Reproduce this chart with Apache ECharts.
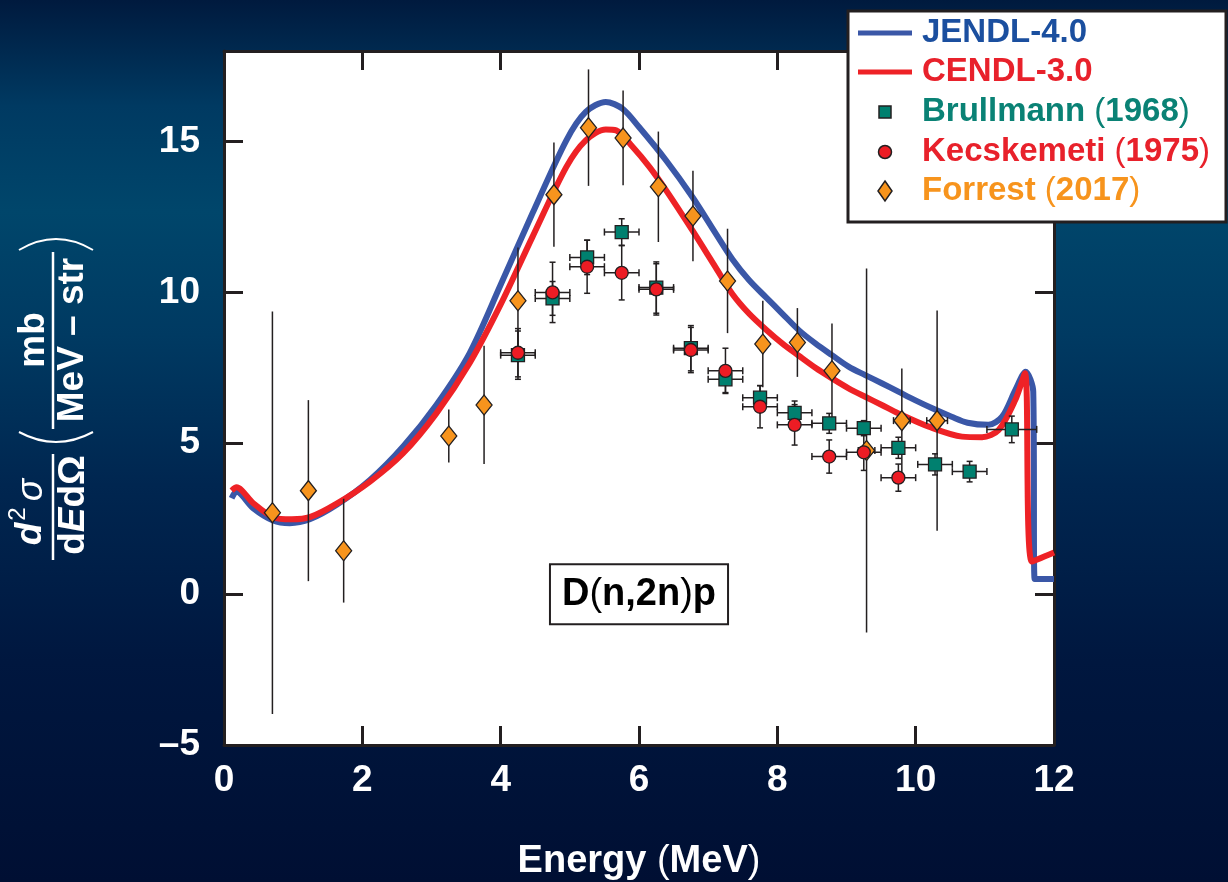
<!DOCTYPE html>
<html>
<head>
<meta charset="utf-8">
<script src="https://cdn.jsdelivr.net/npm/echarts@6/dist/echarts.min.js"></script>
<style>
  html, body { margin: 0; padding: 0; }
  #chart {
    width: 1228px; height: 882px;
    background: linear-gradient(180deg, #001a3e 0%, #003a62 12%, #00466b 24%, #003a62 38%, #002650 55%, #00173f 75%, #000f33 100%);
  }
</style>
</head>
<body>
<div id="chart"></div>
<script>
const FONT = '"Liberation Sans", Arial, Helvetica, sans-serif';

// Axis ticks
const xTickValues = [0, 2, 4, 6, 8, 10, 12];
const xTickLabels = ['0', '2', '4', '6', '8', '10', '12'];
const yTickValues = [-5, 0, 5, 10, 15];
const yTickLabels = ['\u20135', '0', '5', '10', '15'];

// Series names
const seriesNames = ['JENDL-4.0', 'CENDL-3.0', 'Brullmann (1968)', 'Kecskemeti (1975)', 'Forrest (2017)'];

// JENDL-4.0 evaluation: neutron energy (MeV) and d2σ/dEdΩ (mb/MeV-str)
const jendlE  = [0.11, 0.18, 0.42, 0.71, 0.95, 1.24, 1.63, 2.11, 2.59, 3.07, 3.55, 4.00, 4.46, 4.95, 5.23, 5.52, 5.76, 6.00, 6.39, 6.77, 7.11, 7.35, 7.59, 7.83, 8.07, 8.31, 8.55, 8.79, 9.03, 9.27, 9.51, 9.75, 9.99, 10.24, 10.52, 10.75, 11.05, 11.25, 11.44, 11.59, 11.70, 11.72, 12.00];
const jendlXS = [3.18, 3.40, 2.85, 2.44, 2.35, 2.48, 2.96, 3.78, 4.89, 6.27, 7.98, 10.25, 12.62, 15.04, 15.98, 16.31, 16.09, 15.48, 14.38, 13.17, 11.95, 11.10, 10.41, 9.85, 9.30, 8.75, 8.31, 7.92, 7.54, 7.26, 6.99, 6.71, 6.43, 6.16, 5.88, 5.68, 5.61, 5.88, 6.76, 7.37, 6.71, 0.50, 0.50];

// CENDL-3.0 evaluation
const cendlE  = [0.11, 0.18, 0.42, 0.71, 0.98, 1.24, 1.63, 2.11, 2.59, 3.07, 3.55, 4.00, 4.46, 4.95, 5.23, 5.52, 5.67, 5.91, 6.15, 6.39, 6.77, 7.11, 7.35, 7.59, 7.83, 8.07, 8.31, 8.55, 8.79, 9.03, 9.27, 9.51, 9.75, 10.19, 10.67, 10.96, 11.20, 11.44, 11.58, 11.68, 12.00];
const cendlXS = [3.43, 3.54, 3.02, 2.55, 2.48, 2.55, 3.00, 3.73, 4.67, 5.99, 7.65, 9.60, 11.84, 14.16, 15.04, 15.40, 15.37, 14.82, 14.16, 13.39, 12.06, 10.82, 9.95, 9.30, 8.78, 8.31, 7.90, 7.50, 7.15, 6.82, 6.54, 6.27, 5.99, 5.55, 5.22, 5.20, 5.44, 6.43, 7.32, 1.08, 1.38];

// Brullmann (1968)
const brullE    = [4.25, 4.75, 5.25, 5.75, 6.25, 6.75, 7.25, 7.75, 8.25, 8.75, 9.25, 9.75, 10.28, 10.78, 11.39];
const brullXS   = [7.92, 9.80, 11.16, 12.00, 10.16, 8.15, 7.12, 6.51, 6.01, 5.66, 5.50, 4.85, 4.30, 4.06, 5.46];
const brullErr  = [0.80, 0.56, 0.57, 0.44, 0.85, 0.75, 0.44, 0.40, 0.39, 0.33, 0.25, 0.35, 0.35, 0.34, 0.44];
const brullEErr = [0.25, 0.25, 0.25, 0.25, 0.25, 0.25, 0.25, 0.25, 0.25, 0.25, 0.25, 0.25, 0.25, 0.25, 0.36];

// Kecskemeti (1975)
const kecskE    = [4.25, 4.75, 5.25, 5.75, 6.25, 6.75, 7.25, 7.75, 8.25, 8.75, 9.25, 9.75];
const kecskXS   = [8.00, 10.00, 10.85, 10.65, 10.10, 8.09, 7.40, 6.21, 5.61, 4.56, 4.70, 3.86];
const kecskErr  = [0.80, 1.00, 0.88, 0.90, 0.85, 0.75, 0.75, 0.70, 0.67, 0.55, 0.60, 0.45];
const kecskEErr = [0.25, 0.25, 0.25, 0.25, 0.25, 0.25, 0.25, 0.25, 0.25, 0.25, 0.25, 0.25];

// Forrest (2017)
const forrE    = [0.70, 1.22, 1.73, 3.25, 3.76, 4.25, 4.77, 5.27, 5.77, 6.28, 6.78, 7.28, 7.79, 8.29, 8.79, 9.29, 9.80, 10.31];
const forrXS   = [2.70, 3.43, 1.44, 5.24, 6.27, 9.72, 13.24, 15.46, 15.12, 13.50, 12.53, 10.38, 8.29, 8.34, 7.40, 4.76, 5.75, 5.75];
const forrErr  = [6.67, 3.00, 1.72, 0.88, 1.96, 1.77, 1.73, 1.93, 1.57, 1.83, 1.50, 1.73, 1.43, 1.14, 1.57, 6.03, 1.73, 3.65];
const forrEErr = [0, 0, 0, 0, 0, 0, 0, 0, 0, 0, 0, 0, 0, 0, 0, 0.12, 0.12, 0.15];

// Reaction label, placed in data coordinates
const reactionLabel = 'D(n,2n)p';
const reactionAt = [6.0, 0.0];

const colors = {
  jendl: '#3a57a7', cendl: '#ee2226',
  brull: '#00806f', kecsk: '#ed1c24', forr: '#f7941d',
  jendlText: '#1b4f9f', cendlText: '#e8212b', brullText: '#0a8275', kecskText: '#e8212b', forrText: '#f7941d',
  frame: '#231f20'
};

const zip = (a, b) => a.map((v, i) => [v, b[i]]);

// Parentheses are set in a lighter weight than the surrounding bold text
const thinParens = s => s.replace(/\(/g, '{p|(}').replace(/\)/g, '{p|)}');

function errorBars(xs, ys, yErr, xErr, capY, z) {
  return {
    type: 'custom',
    silent: true,
    z: z,
    xAxisIndex: 0, yAxisIndex: 0,
    data: xs.map((x, i) => [x, ys[i], yErr[i], xErr[i]]),
    encode: { x: 0, y: 1 },
    renderItem: (params, api) => {
      const x = api.value(0), y = api.value(1), ey = api.value(2), ex = api.value(3);
      const style = { stroke: colors.frame, lineWidth: 1.5 };
      const top = api.coord([x, y + ey]);
      const bot = api.coord([x, y - ey]);
      const children = [
        { type: 'line', shape: { x1: top[0], y1: top[1], x2: bot[0], y2: bot[1] }, style }
      ];
      if (capY) {
        children.push({ type: 'line', shape: { x1: top[0] - 3, y1: top[1], x2: top[0] + 3, y2: top[1] }, style });
        children.push({ type: 'line', shape: { x1: bot[0] - 3, y1: bot[1], x2: bot[0] + 3, y2: bot[1] }, style });
      }
      if (ex > 0) {
        const l = api.coord([x - ex, y]);
        const r = api.coord([x + ex, y]);
        children.push({ type: 'line', shape: { x1: l[0], y1: l[1], x2: r[0], y2: r[1] }, style });
        children.push({ type: 'line', shape: { x1: l[0], y1: l[1] - 3.5, x2: l[0], y2: l[1] + 3.5 }, style });
        children.push({ type: 'line', shape: { x1: r[0], y1: r[1] - 3.5, x2: r[0], y2: r[1] + 3.5 }, style });
      }
      return { type: 'group', children };
    }
  };
}

const tickStyle = { show: true, inside: true, length: 19, lineStyle: { color: colors.frame, width: 3 } };
const lineAxis = { show: true, onZero: false, lineStyle: { color: colors.frame, width: 3 } };
const tickLabelStyle = { color: '#ffffff', fontSize: 37, fontWeight: 'bold', fontFamily: FONT };

// Boxed key in the upper right corner
const legendRows = [33, 72, 112, 152, 191];
const legendTextColors = [colors.jendlText, colors.cendlText, colors.brullText, colors.kecskText, colors.forrText];
const LZ = 100;
const legendElements = [
  { type: 'rect', z: LZ, shape: { x: 848, y: 11, width: 378, height: 211 }, style: { fill: '#ffffff', stroke: colors.frame, lineWidth: 3 } },
  { type: 'line', z: LZ, shape: { x1: 858, y1: legendRows[0], x2: 912, y2: legendRows[0] }, style: { stroke: colors.jendl, lineWidth: 5 } },
  { type: 'line', z: LZ, shape: { x1: 858, y1: legendRows[1], x2: 912, y2: legendRows[1] }, style: { stroke: colors.cendl, lineWidth: 5 } },
  { type: 'rect', z: LZ, shape: { x: 879, y: legendRows[2] - 6, width: 12, height: 12 }, style: { fill: colors.brull, stroke: colors.frame, lineWidth: 1.5 } },
  { type: 'circle', z: LZ, shape: { cx: 885, cy: legendRows[3], r: 6.5 }, style: { fill: colors.kecsk, stroke: colors.frame, lineWidth: 1.5 } },
  { type: 'polygon', z: LZ, shape: { points: [[885, legendRows[4] - 10], [892, legendRows[4]], [885, legendRows[4] + 10], [878, legendRows[4]]] }, style: { fill: colors.forr, stroke: colors.frame, lineWidth: 1.5 } }
];
seriesNames.forEach((name, i) => {
  legendElements.push({
    type: 'text', z: LZ, x: 922, y: legendRows[i],
    style: {
      text: thinParens(name), fill: legendTextColors[i],
      fontSize: 33, fontWeight: 'bold', fontFamily: FONT,
      verticalAlign: 'middle', align: 'left',
      rich: { p: { fontSize: 33, fontWeight: 'normal', fontFamily: FONT, fill: legendTextColors[i], color: legendTextColors[i] } }
    }
  });
});

// Y axis title: d²σ/dEdΩ (mb / MeV – str), set vertically
const W = '#ffffff';
const yTitleStyle = { fill: W, fontSize: 37, fontWeight: 'bold', fontFamily: FONT, align: 'center', verticalAlign: 'middle' };
const yTitle = {
  type: 'group', x: 53, y: 397, rotation: Math.PI / 2,
  children: [
    { type: 'line', shape: { x1: -163, y1: 0, x2: -57, y2: 0 }, style: { stroke: W, lineWidth: 2.5 } },
    { type: 'text', x: -137, y: -22, style: Object.assign({}, yTitleStyle, { text: 'd', fontStyle: 'italic' }) },
    { type: 'text', x: -117, y: -35, style: Object.assign({}, yTitleStyle, { text: '2', fontSize: 24, fontWeight: 'normal' }) },
    { type: 'text', x: -93, y: -21, style: Object.assign({}, yTitleStyle, { text: '\u03c3', fontStyle: 'italic', fontWeight: 'normal' }) },
    { type: 'text', x: -108, y: 21, style: Object.assign({}, yTitleStyle, {
        text: 'd{e|E}d\u03a9',
        rich: { e: { fontSize: 37, fontStyle: 'italic', fontWeight: 'bold', fontFamily: FONT, fill: W, color: W } } }) },
    { type: 'bezierCurve', shape: { x1: -35, y1: -34, cpx1: -55, cpy1: 3, x2: -35, y2: 40 }, style: { stroke: W, lineWidth: 2, fill: 'none' } },
    { type: 'line', shape: { x1: -32, y1: 0, x2: 145, y2: 0 }, style: { stroke: W, lineWidth: 2.5 } },
    { type: 'text', x: 57, y: -19, style: Object.assign({}, yTitleStyle, { text: 'mb' }) },
    { type: 'text', x: 57, y: 20, style: Object.assign({}, yTitleStyle, { text: 'MeV \u2013 str' }) },
    { type: 'bezierCurve', shape: { x1: 147, y1: -34, cpx1: 169, cpy1: 3, x2: 147, y2: 40 }, style: { stroke: W, lineWidth: 2, fill: 'none' } }
  ]
};

const chart = echarts.init(document.getElementById('chart'), null, { renderer: 'canvas' });

const option = {
  backgroundColor: 'transparent',
  animation: false,
  textStyle: { fontFamily: FONT },
  grid: {
    left: 224, top: 51, width: 830, height: 694,
    show: true, backgroundColor: '#ffffff', borderWidth: 0,
    containLabel: false, outerBoundsMode: 'none'
  },
  xAxis: [
    {
      type: 'value', position: 'bottom', min: 0, max: 12, interval: 2,
      axisLine: lineAxis, axisTick: tickStyle, splitLine: { show: false },
      axisLabel: Object.assign({}, tickLabelStyle, {
        margin: 17,
        formatter: v => { const i = xTickValues.indexOf(v); return i >= 0 ? xTickLabels[i] : ''; }
      }),
      name: '{t|Energy }{p|(}{t|MeV}{p|)}',
      nameLocation: 'middle', nameGap: 98,
      nameTextStyle: {
        color: W, fontSize: 38, fontWeight: 'bold', fontFamily: FONT,
        rich: {
          t: { color: W, fontSize: 38, fontWeight: 'bold', fontFamily: FONT },
          p: { color: W, fontSize: 38, fontWeight: 'normal', fontFamily: FONT }
        }
      }
    },
    {
      type: 'value', position: 'top', min: 0, max: 12, interval: 2,
      axisLine: lineAxis, axisTick: tickStyle, axisLabel: { show: false }, splitLine: { show: false }
    }
  ],
  yAxis: [
    {
      type: 'value', position: 'left', min: -5, max: 18, interval: 5,
      axisLine: lineAxis, axisTick: tickStyle, splitLine: { show: false },
      axisLabel: Object.assign({}, tickLabelStyle, {
        margin: 24, showMaxLabel: false,
        formatter: v => { const i = yTickValues.indexOf(v); return i >= 0 ? yTickLabels[i] : ''; }
      })
    },
    {
      type: 'value', position: 'right', min: -5, max: 18, interval: 5,
      axisLine: lineAxis, axisTick: tickStyle, axisLabel: { show: false }, splitLine: { show: false }
    }
  ],
  series: [
    {
      name: seriesNames[0], type: 'line', z: 2, data: zip(jendlE, jendlXS),
      showSymbol: false, smooth: 0.3,
      lineStyle: { color: colors.jendl, width: 6, join: 'round' }, itemStyle: { color: colors.jendl }
    },
    {
      name: seriesNames[1], type: 'line', z: 2, data: zip(cendlE, cendlXS),
      showSymbol: false, smooth: 0.3,
      lineStyle: { color: colors.cendl, width: 6, join: 'round' }, itemStyle: { color: colors.cendl }
    },
    errorBars(forrE, forrXS, forrErr, forrEErr, false, 3),
    errorBars(brullE, brullXS, brullErr, brullEErr, true, 3),
    errorBars(kecskE, kecskXS, kecskErr, kecskEErr, true, 3),
    {
      name: seriesNames[4], type: 'scatter', z: 4, data: zip(forrE, forrXS),
      symbol: 'diamond', symbolSize: [16, 20],
      itemStyle: { color: colors.forr, borderColor: colors.frame, borderWidth: 1.3, opacity: 1 }
    },
    {
      name: seriesNames[2], type: 'scatter', z: 5, data: zip(brullE, brullXS),
      symbol: 'rect', symbolSize: 13,
      itemStyle: { color: colors.brull, borderColor: colors.frame, borderWidth: 1.3, opacity: 1 }
    },
    {
      name: seriesNames[3], type: 'scatter', z: 6, data: zip(kecskE, kecskXS),
      symbol: 'circle', symbolSize: 13,
      itemStyle: { color: colors.kecsk, borderColor: colors.frame, borderWidth: 1.3, opacity: 1 }
    }
  ],
  graphic: legendElements.concat([yTitle])
};

chart.setOption(option);

// Reaction label anchored to its data position
const p = chart.convertToPixel({ xAxisIndex: 0, yAxisIndex: 0 }, reactionAt);
chart.setOption({
  graphic: [{
    type: 'text', id: 'reaction', x: p[0], y: p[1], z: 60,
    style: {
      text: thinParens(reactionLabel),
      fill: '#000000', fontSize: 38, fontWeight: 'bold', fontFamily: FONT,
      align: 'center', verticalAlign: 'middle',
      backgroundColor: '#ffffff', borderColor: colors.frame, borderWidth: 2,
      padding: [10, 11, 10, 11], lineHeight: 38,
      rich: { p: { fontSize: 38, fontWeight: 'normal', fontFamily: FONT, fill: '#000000' } }
    }
  }]
});
</script>
</body>
</html>
